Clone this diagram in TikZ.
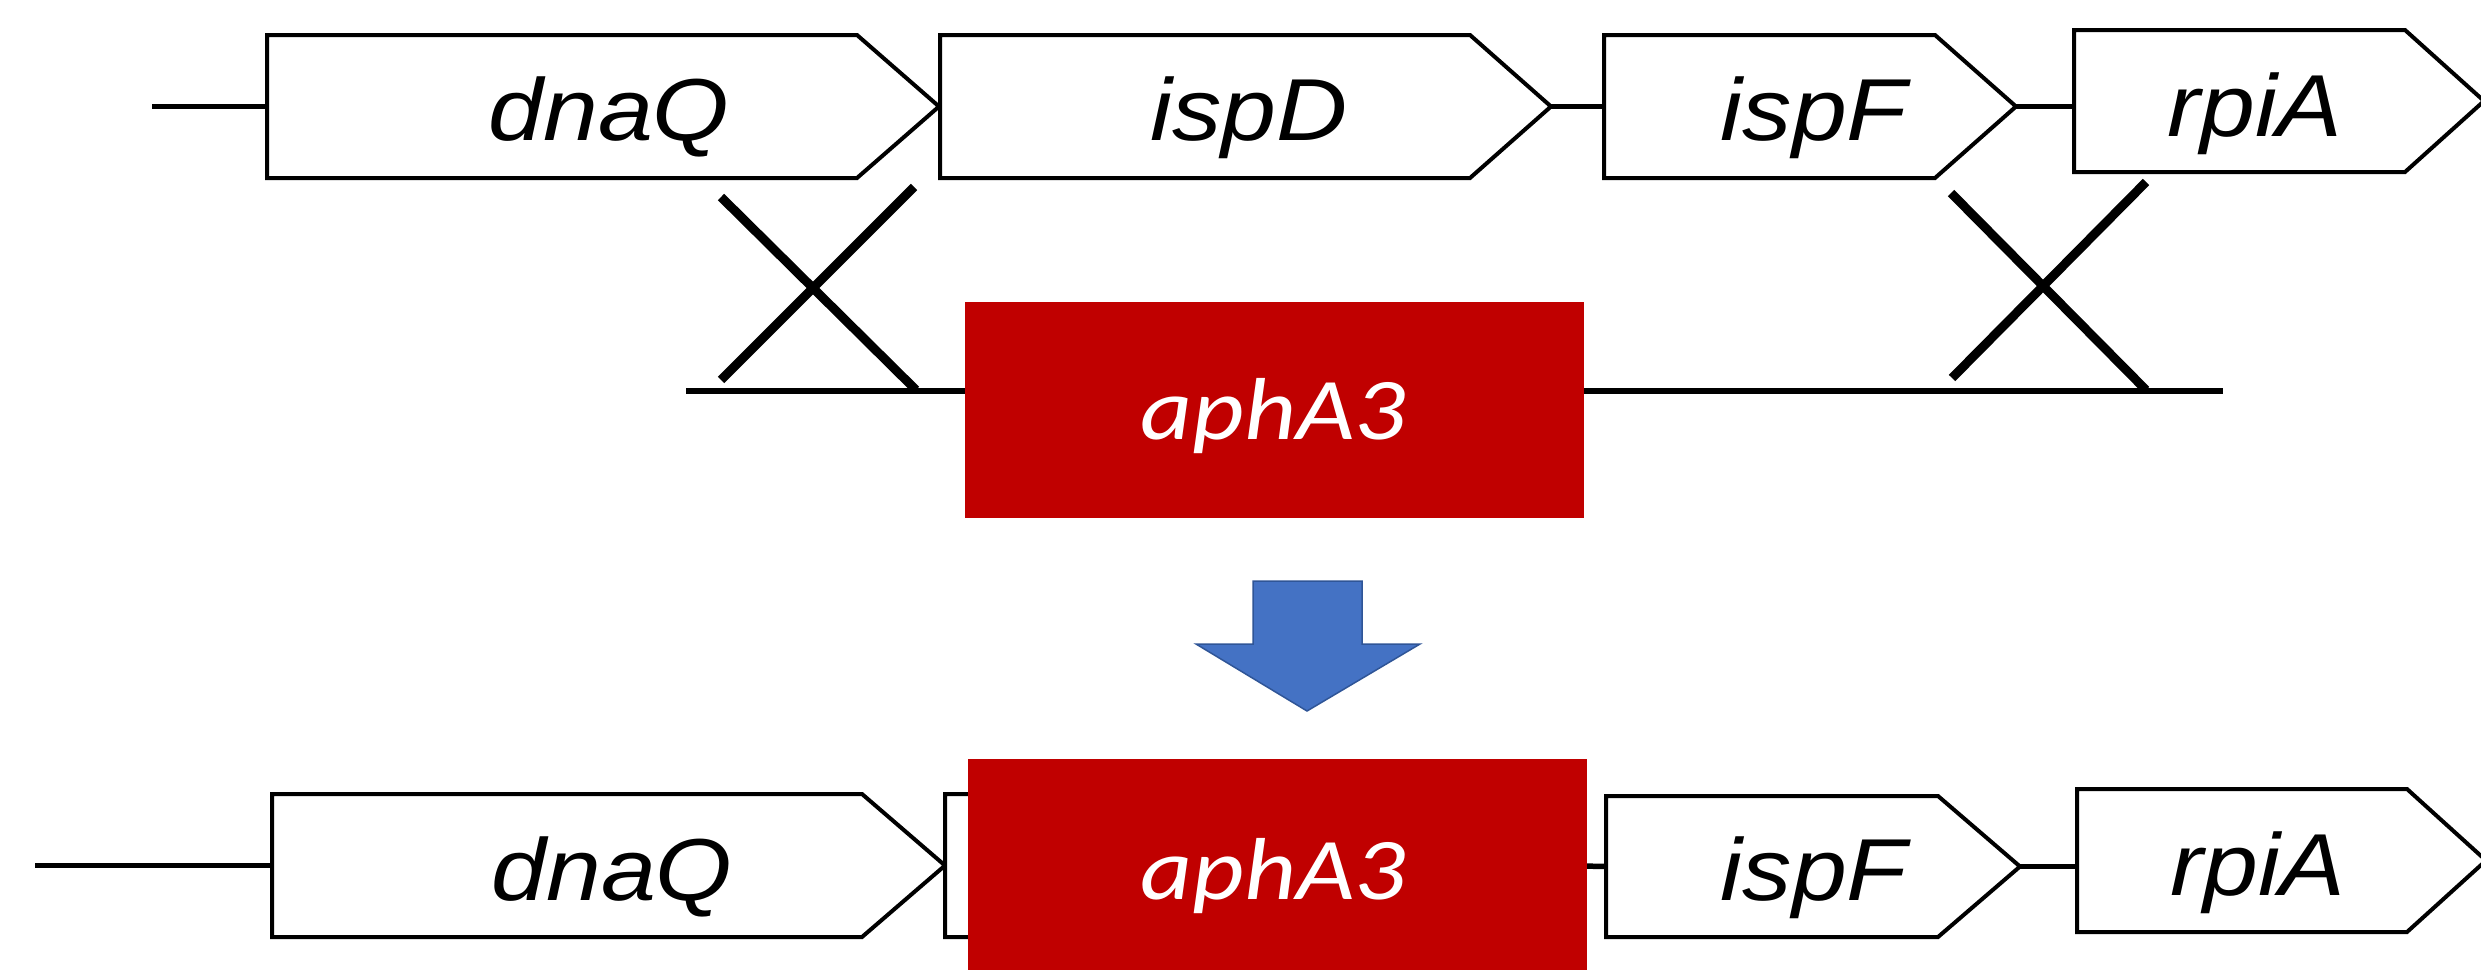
\documentclass[tikz,border=0pt]{standalone}
\usepackage{fontspec}
\newfontfamily\genefont{Liberation Sans}[FakeStretch=1.12]
\newfontfamily\aphfont{Carlito}[FakeStretch=1.15]
\definecolor{aphred}{HTML}{C00000}
\definecolor{arrowblue}{HTML}{4472C4}
\definecolor{arrowedge}{HTML}{2F5597}
\newcommand\genepath[2]{\path[geneline] (#1.north west) -- ([xshift=-#2pt]#1.north east) -- (#1.east) -- ([xshift=-#2pt]#1.south east) -- (#1.south west) -- cycle;}
\begin{document}
\begin{tikzpicture}[x=1pt,y=-1pt,
 genebox/.style={inner sep=0pt, outer sep=0pt, minimum height=143pt},
 geneline/.style={draw=black, line width=4pt, fill=white, line join=miter},
 backbone/.style={line width=5.5pt},
 xline/.style={line width=9pt},
 genetext/.style={anchor=base, font=\genefont\itshape\fontsize{88pt}{100pt}\selectfont},
 aphbox/.style={fill=aphred, inner sep=0pt, outer sep=0pt, minimum width=619pt, minimum height=216pt},
 aphtext/.style={anchor=base, text=white, font=\aphfont\itshape\fontsize{88pt}{100pt}\selectfont},
 bluearrow/.style={fill=arrowblue, draw=arrowedge, line width=1.5pt, line join=miter}
]
\useasboundingbox (0,0) rectangle (2481,969);

% ---------- top row ----------
\node[genebox, minimum width=672pt] (dnaQ) at (603,106.5) {};
\node[genebox, minimum width=611pt] (ispD) at (1245.5,106.5) {};
\node[genebox, minimum width=412pt] (ispF) at (1810,106.5) {};
\node[genebox, minimum width=410pt, minimum height=142pt] (rpiA) at (2279,101) {};
\coordinate (leadT) at (152,106.5);
\draw[backbone] (leadT) -- (dnaQ.west);
\draw[backbone] (ispD.east) -- (ispF.west);
\draw[backbone] (ispF.east) -- (ispF.east -| rpiA.west);
\genepath{dnaQ}{82}
\genepath{ispD}{81}
\genepath{ispF}{81}
\genepath{rpiA}{79}
\node[genetext] at (609,140) {dnaQ};
\node[genetext] at (1249,140) {ispD};
\node[genetext] at (1814,140) {ispF};
\node[genetext] at (2255,136) {rpiA};

% ---------- middle: cassette ----------
\coordinate (bbL) at (686,391);
\coordinate (bbR) at (2223,391);
\draw[backbone] (bbL) -- (bbR);
\node[aphbox] (aph) at (1274.5,410) {};
\node[aphtext] at (1273,439) {aphA3};
% crossover marks
\coordinate (xa1) at (721,197); \coordinate (xa2) at (916,390);
\coordinate (xb1) at (721,380); \coordinate (xb2) at (914,187);
\draw[xline] (xa1) -- (xa2);
\draw[xline] (xb1) -- (xb2);
\coordinate (xc1) at (1951,193); \coordinate (xc2) at (2146,390);
\coordinate (xd1) at (1952,378); \coordinate (xd2) at (2146,182);
\draw[xline] (xc1) -- (xc2);
\draw[xline] (xd1) -- (xd2);

% ---------- block arrow ----------
\path[bluearrow] (1253,581) -- (1362,581) -- (1362,644) -- (1420,644) -- (1307,711) -- (1196,644) -- (1253,644) -- cycle;

% ---------- bottom row ----------
\node[genebox, minimum width=673pt] (dnaQb) at (608.5,865.5) {};
\node[genebox, minimum width=611pt] (ispDb) at (1250.5,865.5) {};
\node[genebox, minimum width=414pt, minimum height=141pt] (ispFb) at (1813,866.5) {};
\node[genebox, minimum width=409pt] (rpiAb) at (2281.5,860.5) {};
\coordinate (leadB) at (35,865.5);
\draw[backbone] (leadB) -- (dnaQb.west);
\draw[backbone] (ispDb.east) -- (ispFb.west);
\draw[backbone] (ispFb.east) -- (ispFb.east -| rpiAb.west);
\genepath{dnaQb}{83}
\genepath{ispDb}{81}
\genepath{ispFb}{82}
\genepath{rpiAb}{79}
\node[aphbox] (aphb) at (1277.5,867) {};
\node[genetext] at (612,900) {dnaQ};
\node[aphtext] at (1273,899) {aphA3};
\node[genetext] at (1814,900) {ispF};
\node[genetext] at (2258,895) {rpiA};
\end{tikzpicture}
\end{document}
